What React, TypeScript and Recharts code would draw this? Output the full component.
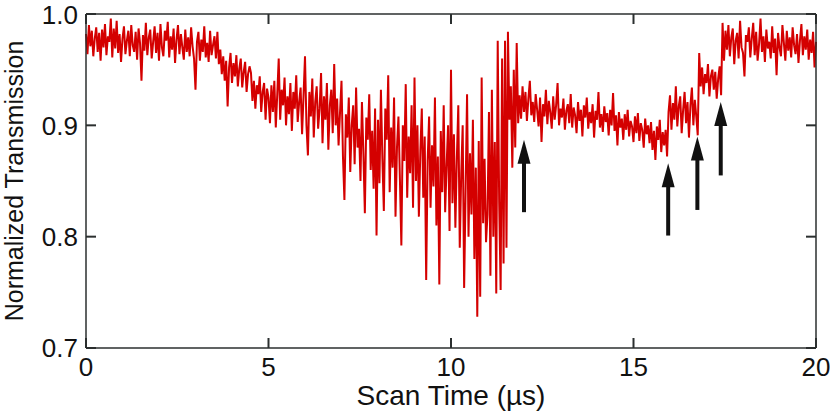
import { Line, LineChart, ReferenceLine, XAxis, YAxis } from "recharts";

// sample spacing of the trace, µs
const sampleStep = 0.04;

// flat start, 0 – 3.56 µs
const flatStart = [
  0.982, 0.964, 0.99, 0.971, 0.985, 0.962, 0.978, 0.988, 0.966, 0.983,
  0.958, 0.986, 0.97, 0.991, 0.963, 0.98, 0.975, 0.996, 0.961, 0.987,
  0.969, 0.994, 0.965, 0.982, 0.957, 0.978, 0.989, 0.964, 0.976, 0.985,
  0.962, 0.99, 0.972, 0.966, 0.984, 0.959, 0.987, 0.974, 0.94, 0.981,
  0.967, 0.992, 0.963, 0.979, 0.986, 0.96, 0.975, 0.989, 0.965, 0.983,
  0.958, 0.991, 0.97, 0.962, 0.985, 0.976, 0.993, 0.961, 0.98, 0.968,
  0.987, 0.956, 0.977, 0.99, 0.964, 0.982, 0.97, 0.959, 0.986, 0.966,
  0.979, 0.962, 0.988, 0.971, 0.96, 0.932, 0.975, 0.984, 0.958, 0.977,
  0.966, 0.989, 0.961, 0.974, 0.957, 0.985, 0.963, 0.972, 0.98, 0.96,
];

// first steps down, 3.6 – 4.96 µs
const firstDrop = [
  0.984, 0.955, 0.968, 0.946, 0.962, 0.94, 0.958, 0.917, 0.952, 0.965,
  0.938, 0.956, 0.944, 0.963, 0.935, 0.951, 0.96, 0.934, 0.948, 0.957,
  0.93, 0.946, 0.953,
  0.947, 0.922, 0.94, 0.915, 0.936, 0.928, 0.944, 0.912, 0.93, 0.938,
  0.905, 0.933,
];

// broadening dip, 5 – 10.96 µs
const dip = [
  0.925, 0.902, 0.936, 0.912, 0.94, 0.898, 0.928, 0.96, 0.905, 0.932,
  0.918, 0.943, 0.9, 0.926, 0.91, 0.938, 0.895, 0.93, 0.915, 0.945,
  0.903, 0.921, 0.934, 0.892, 0.927,
  0.962, 0.9, 0.873, 0.93, 0.908, 0.942, 0.889, 0.921, 0.935, 0.897,
  0.915, 0.947, 0.884, 0.926, 0.905, 0.938, 0.878, 0.918, 0.932, 0.893,
  0.955, 0.9, 0.924, 0.882, 0.912,
  0.94, 0.872, 0.833, 0.91, 0.889, 0.925, 0.858, 0.9, 0.918, 0.865,
  0.934, 0.88, 0.897, 0.85, 0.921, 0.875, 0.821, 0.907, 0.887, 0.928,
  0.86, 0.895, 0.843, 0.915, 0.801,
  0.905, 0.848, 0.932, 0.87, 0.823, 0.915, 0.887, 0.945, 0.84, 0.898,
  0.862, 0.925, 0.818, 0.88, 0.908, 0.852, 0.792, 0.9, 0.868, 0.937,
  0.835, 0.89, 0.857, 0.918, 0.826,
  0.943, 0.85, 0.9, 0.818, 0.877, 0.915, 0.835, 0.89, 0.761, 0.868,
  0.908, 0.826, 0.882, 0.845, 0.925, 0.81, 0.872, 0.757, 0.895, 0.84,
  0.918, 0.822, 0.864, 0.9, 0.805,
  0.95, 0.83, 0.892, 0.808, 0.87, 0.918, 0.79, 0.856, 0.9, 0.754,
  0.842, 0.928, 0.8, 0.875, 0.82, 0.905, 0.78, 0.862, 0.728, 0.886,
  0.746, 0.943, 0.812, 0.87, 0.795,
];

// wild part before recovery, 11 – 11.84 µs
const burst = [
  0.82, 0.912, 0.765, 0.932, 0.8, 0.885, 0.749, 0.976, 0.83, 0.752,
  0.96, 0.776, 0.976, 0.79,
  0.984, 0.905, 0.935, 0.862, 0.95, 0.88, 0.974, 0.902,
];

// slow decline, 11.88 – 15.92 µs
const plateau = [
  0.927, 0.906, 0.935, 0.912, 0.93, 0.904, 0.924, 0.94, 0.909, 0.921,
  0.903, 0.928, 0.914, 0.899, 0.925, 0.885, 0.919, 0.908, 0.932, 0.901,
  0.922, 0.912, 0.897, 0.926, 0.905, 0.918, 0.938, 0.9, 0.915, 0.907,
  0.924, 0.896, 0.913, 0.919, 0.902, 0.928, 0.898, 0.916, 0.909, 0.893,
  0.921, 0.904, 0.914, 0.89, 0.918, 0.907, 0.925, 0.897, 0.912, 0.902,
  0.919, 0.889, 0.913, 0.905, 0.93, 0.898, 0.91, 0.894, 0.917, 0.903,
  0.911, 0.891, 0.914, 0.9, 0.929, 0.895, 0.909, 0.882, 0.912, 0.898,
  0.906, 0.887, 0.91, 0.896, 0.914, 0.89, 0.904, 0.899, 0.885, 0.908,
  0.893, 0.911, 0.886, 0.902, 0.896, 0.88, 0.906, 0.892, 0.9, 0.884,
  0.903, 0.878, 0.895, 0.869, 0.899, 0.887, 0.905, 0.876, 0.894, 0.882,
  0.896, 0.872,
];

// three steps back up, 15.96 – 20 µs
const stepOne = [
  0.912, 0.927, 0.896, 0.92, 0.905, 0.935, 0.899, 0.917, 0.926, 0.893,
  0.914, 0.93, 0.902, 0.921, 0.889, 0.918, 0.934, 0.9, 0.923, 0.908,
  0.891,
];
const stepTwo = [
  0.965, 0.935, 0.952, 0.928, 0.946, 0.938, 0.955, 0.926, 0.944, 0.95,
  0.932, 0.948, 0.924, 0.942, 0.953, 0.927,
];
const stepThree = [
  0.992, 0.958, 0.985, 0.968, 0.99, 0.962, 0.979, 0.987, 0.955, 0.976,
  0.983, 0.96, 0.994, 0.97, 0.965, 0.944, 0.981, 0.975, 0.988, 0.961,
  0.978, 0.992, 0.963, 0.984, 0.958, 0.973, 0.996, 0.966, 0.98, 0.957,
  0.986, 0.969, 0.975, 0.96, 0.989, 0.965, 0.978, 0.945, 0.983, 0.97,
  0.962, 0.99, 0.974, 0.958, 0.985, 0.967, 0.979, 0.961, 0.988, 0.972,
  0.964, 0.982, 0.956, 0.976, 0.991, 0.963, 0.98, 0.968, 0.986, 0.959,
  0.977, 0.965, 0.984, 0.952, 0.975,
];

const xTicks = [0, 5, 10, 15, 20];
const yTicks = [0.7, 0.8, 0.9, 1.0];
const xMax = 20;
const yMax = 1.0;

// arrows: time, tail value, tip value
const arrowTimes = [12.0, 15.95, 16.75, 17.39];
const arrowTails = [0.822, 0.801, 0.824, 0.855];
const arrowTips = [0.887, 0.866, 0.89, 0.921];

const transmission = [
  ...flatStart, ...firstDrop, ...dip, ...burst,
  ...plateau, ...stepOne, ...stepTwo, ...stepThree,
];
const rows = transmission.map((t, i) => ({ time: +(i * sampleStep).toFixed(2), t }));

const AXIS = "#2b2f2f";
const TICK_LEN = 10;

function Arrow(p: any) {
  const x = p.x1;
  const tip = Math.min(p.y1, p.y2);
  const tail = Math.max(p.y1, p.y2);
  const head = 24;
  return (
    <g>
      <line x1={x} y1={tail} x2={x} y2={tip + head - 2} stroke="#111" strokeWidth={4} />
      <polygon points={`${x},${tip} ${x - 6.5},${tip + head} ${x + 6.5},${tip + head}`} fill="#111" />
    </g>
  );
}

// inward tick marks on the top and bottom edges of the frame
function XTickMarks(p: any) {
  const x = p.x1;
  const top = Math.min(p.y1, p.y2);
  const bottom = Math.max(p.y1, p.y2);
  return (
    <g>
      <line x1={x} x2={x} y1={top} y2={top + TICK_LEN} stroke={AXIS} strokeWidth={2} />
      <line x1={x} x2={x} y1={bottom} y2={bottom - TICK_LEN} stroke={AXIS} strokeWidth={2} />
    </g>
  );
}

// inward tick marks on the left and right edges of the frame
function YTickMarks(p: any) {
  const y = p.y1;
  const left = Math.min(p.x1, p.x2);
  const right = Math.max(p.x1, p.x2);
  return (
    <g>
      <line x1={left} x2={left + TICK_LEN} y1={y} y2={y} stroke={AXIS} strokeWidth={2} />
      <line x1={right} x2={right - TICK_LEN} y1={y} y2={y} stroke={AXIS} strokeWidth={2} />
    </g>
  );
}

export default function App() {
  return (
    <div style={{ position: "absolute", left: 0, top: 0, fontFamily: "'Liberation Sans', Arial, sans-serif" }}>
      <LineChart width={830} height={413} data={rows} margin={{ top: 14, right: 14, bottom: 0, left: 0 }}>
        <XAxis
          dataKey="time"
          type="number"
          domain={[0, xMax]}
          ticks={xTicks}
          height={65}
          tickLine={false}
          tickSize={0}
          tickMargin={10}
          tick={{ fill: "#111", fontSize: 26 }}
          stroke={AXIS}
          strokeWidth={1.5}
          label={{ value: "Scan Time (µs)", position: "insideBottom", offset: 8, fontSize: 28, fill: "#111" }}
        />
        <YAxis
          type="number"
          domain={[0.7, yMax]}
          ticks={yTicks}
          width={86}
          tickLine={false}
          tickSize={0}
          tickMargin={8}
          tickFormatter={(v) => v.toFixed(1)}
          tick={{ fill: "#111", fontSize: 26 }}
          stroke={AXIS}
          strokeWidth={1.5}
          label={{
            value: "Normalized Transmission",
            angle: -90,
            position: "insideLeft",
            offset: 14,
            fontSize: 25,
            fill: "#111",
            style: { textAnchor: "middle" },
          }}
        />
        <Line
          dataKey="t"
          type="linear"
          stroke="#d40000"
          strokeWidth={2}
          strokeLinejoin="miter"
          dot={false}
          isAnimationActive={false}
        />
        {/* top and right edges of the box */}
        <ReferenceLine y={yMax} stroke={AXIS} strokeWidth={1.5} />
        <ReferenceLine x={xMax} stroke={AXIS} strokeWidth={1.5} />
        {xTicks.map((t) => (
          <ReferenceLine key={`x${t}`} x={t} stroke={AXIS} shape={XTickMarks} />
        ))}
        {yTicks.map((t) => (
          <ReferenceLine key={`y${t}`} y={t} stroke={AXIS} shape={YTickMarks} />
        ))}
        {arrowTimes.map((x, i) => (
          <ReferenceLine
            key={x}
            segment={[
              { x, y: arrowTails[i] },
              { x, y: arrowTips[i] },
            ]}
            shape={Arrow}
            ifOverflow="visible"
          />
        ))}
      </LineChart>
    </div>
  );
}
